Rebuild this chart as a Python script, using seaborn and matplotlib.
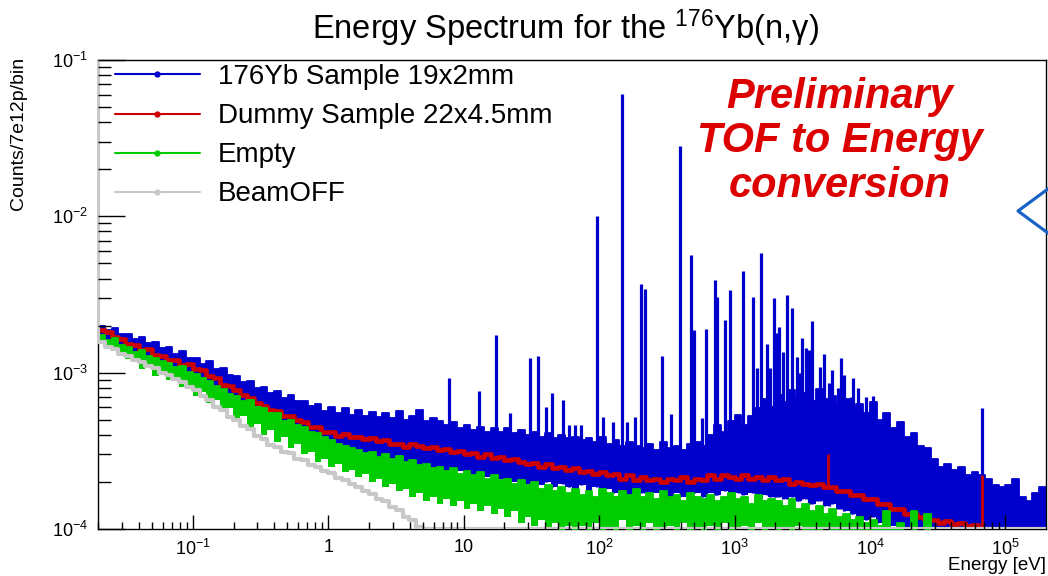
import numpy as np
import matplotlib
matplotlib.use("Agg")
import matplotlib.pyplot as plt
import seaborn as sns
from matplotlib.lines import Line2D
from matplotlib.ticker import FixedLocator, FixedFormatter, LogLocator, NullFormatter

sns.set_theme(style="white")
plt.rcParams['font.family'] = ['Liberation Sans', 'DejaVu Sans']
plt.rcParams['mathtext.fontset'] = 'custom'
plt.rcParams['mathtext.rm'] = 'Liberation Sans'
plt.rcParams['mathtext.it'] = 'Liberation Sans:italic'
plt.rcParams['mathtext.bf'] = 'Liberation Sans:bold'
plt.rcParams['text.color'] = 'black'

# ---------------- histogram binning (20 log bins / decade) ----------------
log_lo, log_hi, n_bins = -1.7, 5.3, 140
edges = 10 ** np.linspace(log_lo, log_hi, n_bins + 1)
UNIT = 1e-4   # all values below are counts/7e12p/bin in units of 1e-4

# ---------------- 176Yb sample: upper / lower edge of the noisy band ----------------
blue_hi = [20.0, 18.8, 19.3, 17.8, 17.6, 16.5, 16.9, 15.5, 15.6, 14.4,
           14.5, 13.2, 13.8, 12.4, 12.5, 11.3, 11.9, 10.5, 10.7, 9.6,
           9.5, 8.7, 8.9, 8.0, 8.1, 7.4, 7.6, 6.9, 7.2, 6.6,
           6.6, 6.1, 6.3, 5.7, 6.0, 5.5, 5.9, 5.4, 5.8, 5.3,
           5.6, 5.2, 5.5, 5.1, 5.7, 5.0, 5.3, 5.8, 4.9, 5.1,
           4.9, 4.6, 4.8, 4.4, 4.6, 4.3, 4.5, 4.2, 4.4, 4.2,
           4.4, 4.1, 4.3, 4.0, 4.2, 3.9, 4.1, 3.8, 4.0, 3.8,
           3.9, 3.7, 3.8, 3.6, 3.9, 3.5, 3.7, 3.4, 3.6, 3.4,
           3.3, 3.5, 3.2, 3.6, 3.3, 3.4, 3.2, 3.5, 3.6, 3.4,
           4.0, 4.6, 4.2, 4.9, 5.4, 4.6, 5.3, 5.9, 6.8, 6.0,
           7.2, 6.5, 7.8, 6.9, 7.4, 6.6, 7.9, 6.8, 7.1, 6.2,
           6.8, 5.9, 6.3, 5.5, 6.5, 5.0, 5.5, 4.4, 4.8, 3.9,
           4.1, 3.4, 3.3, 2.8, 2.5, 2.6, 2.4, 2.5, 2.2, 2.3,
           2.2, 2.1, 1.9, 1.85, 1.9, 2.1, 1.6, 1.5, 1.7, 1.85]
blue_lo = [16.9, 16.2, 15.4, 14.7, 14.0, 13.4, 12.9, 12.4, 11.9, 11.3,
           11.0, 10.6, 10.3, 10.0, 9.6, 9.2, 8.6, 8.2, 7.7, 7.3,
           6.6, 6.0, 5.8, 5.3, 5.0, 4.7, 4.6, 4.3, 4.2, 3.9,
           3.7, 3.5, 3.4, 3.3, 3.1, 3.2, 3.0, 2.9, 3.0, 2.8,
           2.8, 2.7, 2.75, 2.6, 2.7, 2.55, 2.6, 2.5, 2.6, 2.45,
           2.4, 2.3, 2.2, 2.35, 2.1, 2.2, 2.05, 2.15, 2.0, 2.1,
           2.1, 2.0, 2.05, 1.95, 2.0, 1.9, 2.0, 1.85, 1.95, 1.85,
           1.8, 1.9, 1.75, 1.85, 1.7, 1.8, 1.7, 1.75, 1.65, 1.7,
           1.7, 1.6, 1.7, 1.65, 1.6, 1.7, 1.6, 1.65, 1.7, 1.6,
           1.7, 1.65, 1.75, 1.6, 1.7, 1.65, 1.7, 1.6, 1.65, 1.6,
           1.6, 1.55, 1.6, 1.5, 1.55, 1.45, 1.5, 1.4, 1.45, 1.35,
           1.3, 1.25, 1.2, 1.15, 1.2, 1.1, 1.15, 1.05, 1.1, 1.0,
           1.05, 0.95, 1.0, 0.95, 0.9, 0.95, 0.9, 0.9, 0.9, 0.9,
           0.9, 0.9, 0.9, 0.9, 0.9, 0.9, 0.9, 0.9, 0.9, 0.9]

# resonances of the 176Yb sample: energy [eV] and peak height (units of 1e-4)
peak_E = [7.8, 13.0, 17.3, 21.9, 30.8, 35.3, 40.4, 44.8, 54, 59.7,
          66, 74, 96, 106, 126, 147, 162, 183, 203, 220,
          289, 337, 393, 481, 506, 580, 621, 723, 748, 857,
          933, 1087, 1164, 1378, 1578, 1746, 1968, 2143, 2455, 2673,
          2911, 3164, 3388, 3752, 4296, 4600, 5004, 5263, 6137, 6457,
          7520, 8190, 9376, 10020, 10570, 11300, 67100,
          1475, 1840, 2037, 2291, 3006, 3564, 4083, 5834, 7278, 8773]
peak_h = [9.25, 7.6, 17.4, 5.5, 12.4, 12.8, 6.0, 7.4, 6.7, 4.6,
          4.6, 4.6, 100.6, 5.2, 4.8, 607, 4.8, 5.2, 36.9, 34.3,
          12.8, 5.45, 282, 56.6, 18.8, 5.1, 19.0, 39.2, 30.5, 21.7,
          33.8, 4.8, 44.7, 30.5, 58.3, 15.3, 30.0, 19.6, 31.4, 25.9,
          12.6, 16.7, 14.4, 21.4, 10.9, 13.2, 8.6, 10.4, 12.4, 9.7,
          9.25, 8.0, 7.0, 5.8, 7.1, 4.1, 5.9,
          10.7, 10.7, 17.9, 13.6, 9.9, 14.0, 7.5, 8.0, 7.0, 5.5]

# ---------------- Dummy sample ----------------
red = [18.8, 18.2, 16.9, 16.5, 15.3, 15.1, 14.0, 14.1, 13.0, 12.8,
       12.0, 12.1, 11.2, 11.3, 10.5, 10.4, 9.5, 9.3, 8.4, 8.2,
       7.7, 7.2, 6.9, 6.4, 6.1, 5.8, 5.7, 5.3, 5.3, 5.0,
       4.8, 4.5, 4.5, 4.2, 4.15, 3.95, 4.05, 3.85, 3.9, 3.75,
       3.8, 3.65, 3.7, 3.5, 3.5, 3.35, 3.5, 3.4, 3.3, 3.35,
       3.2, 3.25, 3.1, 3.15, 3.0, 3.05, 2.9, 3.0, 2.85, 2.9,
       2.75, 2.8, 2.7, 2.6, 2.65, 2.5, 2.6, 2.45, 2.5, 2.4,
       2.45, 2.3, 2.35, 2.25, 2.3, 2.2, 2.25, 2.1, 2.2, 2.05,
       2.15, 2.05, 2.1, 2.0, 2.1, 2.05, 2.15, 2.0, 2.1, 2.05,
       2.2, 2.1, 2.2, 2.15, 2.1, 2.2, 2.1, 2.15, 2.05, 2.15,
       2.05, 2.1, 1.95, 2.0, 1.95, 1.9, 1.95, 1.85, 1.85, 1.75,
       1.75, 1.65, 1.65, 1.55, 1.55, 1.45, 1.45, 1.35, 1.35, 1.25,
       1.25, 1.2, 1.15, 1.15, 1.1, 1.12, 1.08, 1.1, 1.05, 1.06,
       1.0, 0.98, 0.95, 0.92, 0.9, 0.9, 0.9, 0.9, 0.9, 0.9]
red_spike_E = [4900, 67100]
red_spike_lo = [1.9, 1.0]
red_spike_h = [3.0, 2.2]

# ---------------- Empty: upper / lower edge of the noisy band ----------------
green_hi = [17.4, 16.2, 16.6, 15.0, 14.6, 13.6, 13.9, 12.7, 12.5, 11.8,
            11.6, 10.9, 11.0, 10.1, 9.8, 9.3, 8.9, 8.2, 7.9, 7.3,
            7.1, 6.6, 6.7, 6.0, 5.9, 5.5, 5.5, 4.9, 5.0, 4.6,
            4.5, 4.2, 4.1, 3.9, 3.7, 3.5, 3.4, 3.3, 3.2, 3.05,
            3.1, 2.9, 3.0, 2.8, 2.95, 2.7, 2.75, 2.55, 2.6, 2.45,
            2.5, 2.35, 2.45, 2.25, 2.35, 2.2, 2.3, 2.1, 2.2, 2.05,
            2.1, 1.95, 2.05, 1.9, 2.0, 1.8, 1.9, 1.75, 1.85, 1.7,
            1.8, 1.65, 1.75, 1.6, 1.8, 1.7, 1.6, 1.75, 1.65, 1.8,
            1.6, 1.7, 1.55, 1.75, 1.6, 1.65, 1.5, 1.7, 1.6, 1.55,
            1.65, 1.5, 1.6, 1.7, 1.55, 1.6, 1.45, 1.65, 1.5, 1.55,
            1.5, 1.4, 1.55, 1.35, 1.45, 1.3, 1.4, 1.25, 1.35, 1.2,
            1.25, 1.15, 1.2, 1.1, 1.15, 1.05, 1.3, 1.0, 1.1, 0.95,
            1.3, 0.95, 1.25, 0.9, 0.9, 0.8, 0.8, 0.8, 0.8, 0.8,
            0.8, 0.8, 0.8, 0.8, 0.8, 0.8, 0.8, 0.8, 0.8, 0.8]
green_lo = [15.2, 14.1, 14.3, 13.0, 12.2, 11.8, 10.6, 10.9, 9.5, 9.8,
            9.0, 9.2, 8.1, 8.4, 7.1, 7.5, 6.4, 6.7, 5.6, 5.9,
            5.0, 5.3, 4.5, 4.7, 4.0, 4.3, 3.6, 3.9, 3.3, 3.5,
            3.0, 3.1, 2.7, 2.8, 2.5, 2.6, 2.3, 2.4, 2.15, 2.25,
            2.0, 2.1, 1.85, 1.95, 1.75, 1.8, 1.6, 1.7, 1.5, 1.6,
            1.45, 1.55, 1.4, 1.5, 1.35, 1.45, 1.3, 1.4, 1.25, 1.35,
            1.2, 1.3, 1.1, 1.2, 1.05, 1.15, 1.0, 1.1, 0.95, 1.05,
            0.95, 1.05, 0.9, 1.1, 0.95, 1.0, 0.9, 1.15, 0.95, 1.05,
            0.9, 1.1, 0.95, 1.0, 1.05, 0.9, 1.1, 0.95, 1.0, 0.9,
            1.05, 0.95, 1.1, 0.9, 1.0, 1.05, 0.9, 1.1, 0.95, 1.0,
            0.9, 1.0, 0.95, 1.05, 0.9, 0.95, 0.9, 1.0, 0.9, 0.95,
            0.9, 0.95, 0.9, 0.9, 0.95, 0.9, 0.9, 0.9, 0.9, 0.9,
            0.8, 0.8, 0.8, 0.8, 0.8, 0.8, 0.8, 0.8, 0.8, 0.8,
            0.8, 0.8, 0.8, 0.8, 0.8, 0.8, 0.8, 0.8, 0.8, 0.8]

# ---------------- Beam OFF (first entry = off-scale underflow bin) ----------------
gray_underflow_E = 10 ** -1.75
gray = [2000.0,
        15.6, 14.5, 14.1, 13.2, 12.7, 12.1, 11.7, 11.0, 10.7, 10.0,
        9.7, 9.1, 8.7, 8.1, 7.8, 7.1, 6.7, 6.0, 5.8, 5.2,
        4.95, 4.55, 4.35, 3.95, 3.75, 3.45, 3.35, 3.1, 3.05, 2.8,
        2.75, 2.58, 2.5, 2.34, 2.27, 2.12, 2.07, 1.93, 1.87, 1.75,
        1.68, 1.56, 1.52, 1.38, 1.32, 1.2, 1.15, 1.03, 0.97]
gray_floor_E = [4.5, 2.0e5]
gray_floor = [1.0, 1.0]

# ---------------- labels ----------------
series_labels = ["176Yb Sample 19x2mm", "Dummy Sample 22x4.5mm", "Empty", "BeamOFF"]
xtick_vals = [0.1, 1, 10, 100, 1e3, 1e4, 1e5]
xtick_labels = [r"$10^{-1}$", "1", "10", r"$10^{2}$", r"$10^{3}$", r"$10^{4}$", r"$10^{5}$"]
ytick_vals = [1e-4, 1e-3, 1e-2, 1e-1]
ytick_labels = [r"$10^{-4}$", r"$10^{-3}$", r"$10^{-2}$", r"$10^{-1}$"]

BLUE, RED, GREEN, GRAY = "#0000cc", "#cc0000", "#00cc00", "#c8c8c8"


def closed(v):
    v = np.asarray(v, dtype=float) * UNIT
    return np.append(v, v[-1])


fig = plt.figure(figsize=(10.48, 5.76), dpi=100)
ax = fig.add_axes([98 / 1048, 47 / 576, 948 / 1048, 469 / 576])
ax.set_xscale('log')
ax.set_yscale('log')
ax.set_xlim(10 ** log_lo, 10 ** log_hi)
ax.set_ylim(1e-4, 1e-1)

# 176Yb sample
ax.fill_between(edges, closed(blue_lo), closed(blue_hi), step='post', color=BLUE, lw=0, zorder=2)
sns.lineplot(x=edges, y=closed(blue_hi), drawstyle='steps-post', color=BLUE, lw=1.3,
             estimator=None, ax=ax, zorder=2.1)
bin_idx = np.clip(((np.log10(peak_E) - log_lo) / 0.05).astype(int), 0, n_bins - 1)
peak_base = np.asarray(blue_lo)[bin_idx] * UNIT
ax.vlines(peak_E, peak_base, np.asarray(peak_h) * UNIT, color=BLUE, lw=2.3, zorder=2.2)

# Dummy sample
sns.lineplot(x=edges, y=closed(red), drawstyle='steps-post', color=RED, lw=3.4,
             estimator=None, ax=ax, zorder=3)
ax.vlines(red_spike_E, np.asarray(red_spike_lo) * UNIT, np.asarray(red_spike_h) * UNIT,
          color=RED, lw=2.0, zorder=3)

# Empty
ax.fill_between(edges, closed(green_lo), closed(green_hi), step='post', color=GREEN, lw=0, zorder=4)
sns.lineplot(x=edges, y=closed(green_hi), drawstyle='steps-post', color=GREEN, lw=1.3,
             estimator=None, ax=ax, zorder=4.1)

# Beam OFF
gray_x = np.concatenate([[gray_underflow_E], edges[:len(gray)]])
sns.lineplot(x=gray_x, y=closed(gray), drawstyle='steps-post', color=GRAY, lw=3.0,
             estimator=None, ax=ax, zorder=5)
sns.lineplot(x=gray_floor_E, y=np.asarray(gray_floor) * UNIT, color=GRAY, lw=3.0,
             estimator=None, ax=ax, zorder=5)

# ---------------- axes styling (ROOT-like) ----------------
ax.xaxis.set_major_locator(FixedLocator(xtick_vals))
ax.xaxis.set_major_formatter(FixedFormatter(xtick_labels))
ax.yaxis.set_major_locator(FixedLocator(ytick_vals))
ax.yaxis.set_major_formatter(FixedFormatter(ytick_labels))
ax.xaxis.set_minor_locator(LogLocator(base=10, subs=np.arange(2, 10) * 1.0, numticks=60))
ax.yaxis.set_minor_locator(LogLocator(base=10, subs=np.arange(2, 10) * 1.0, numticks=60))
ax.xaxis.set_minor_formatter(NullFormatter())
ax.yaxis.set_minor_formatter(NullFormatter())
ax.tick_params(axis='both', which='both', direction='in', top=False, right=False,
               bottom=True, left=True, color='black', labelcolor='black', width=1)
ax.tick_params(axis='x', which='major', length=10, labelsize=13, pad=7)
ax.tick_params(axis='x', which='minor', length=5)
ax.tick_params(axis='y', which='major', length=19.5, labelsize=13, pad=7)
ax.tick_params(axis='y', which='minor', length=9.5)
ax.xaxis.set_zorder(10)
ax.yaxis.set_zorder(10)
for sp in ax.spines.values():
    sp.set_visible(True)
    sp.set_color('black')
    sp.set_linewidth(1.0)
ax.grid(False)

ax.set_title(r"Energy Spectrum for the $^{176}$Yb(n,γ)", fontsize=23.5, pad=15,
             color='black', x=0.4935)
ax.set_xlabel("Energy [eV]", fontsize=13.5, loc='right', color='black')
ax.xaxis.set_label_coords(1.0, -0.06)
ax.set_ylabel("Counts/7e12p/bin", fontsize=14, loc='top', color='black')
ax.yaxis.set_label_coords(-0.075, 1.006)

# legend
handles = [Line2D([0], [0], color=c, lw=1.5, marker='o', markersize=3.5)
           for c in (BLUE, RED, GREEN, GRAY)]
ax.legend(handles, series_labels, loc='upper left', bbox_to_anchor=(0.015, 0.997),
          frameon=False, fontsize=20, handlelength=3.05, handletextpad=0.65,
          labelspacing=0.47, borderaxespad=0.0, borderpad=0.1)

ax.text(0.7827, 0.8265, "Preliminary\nTOF to Energy\nconversion", transform=ax.transAxes,
        ha='center', va='center', multialignment='center', fontsize=30,
        fontweight='bold', fontstyle='italic', color='#dd0000', linespacing=1.15, zorder=12)

# open arrow head at the right edge
fig.add_artist(Line2D([1052 / 1048, 1018 / 1048, 1052 / 1048],
                      [1 - 186 / 576, 1 - 211 / 576, 1 - 236 / 576],
                      transform=fig.transFigure, color='#1a63c6', lw=2.3))

fig.savefig("out.png", dpi=100)
